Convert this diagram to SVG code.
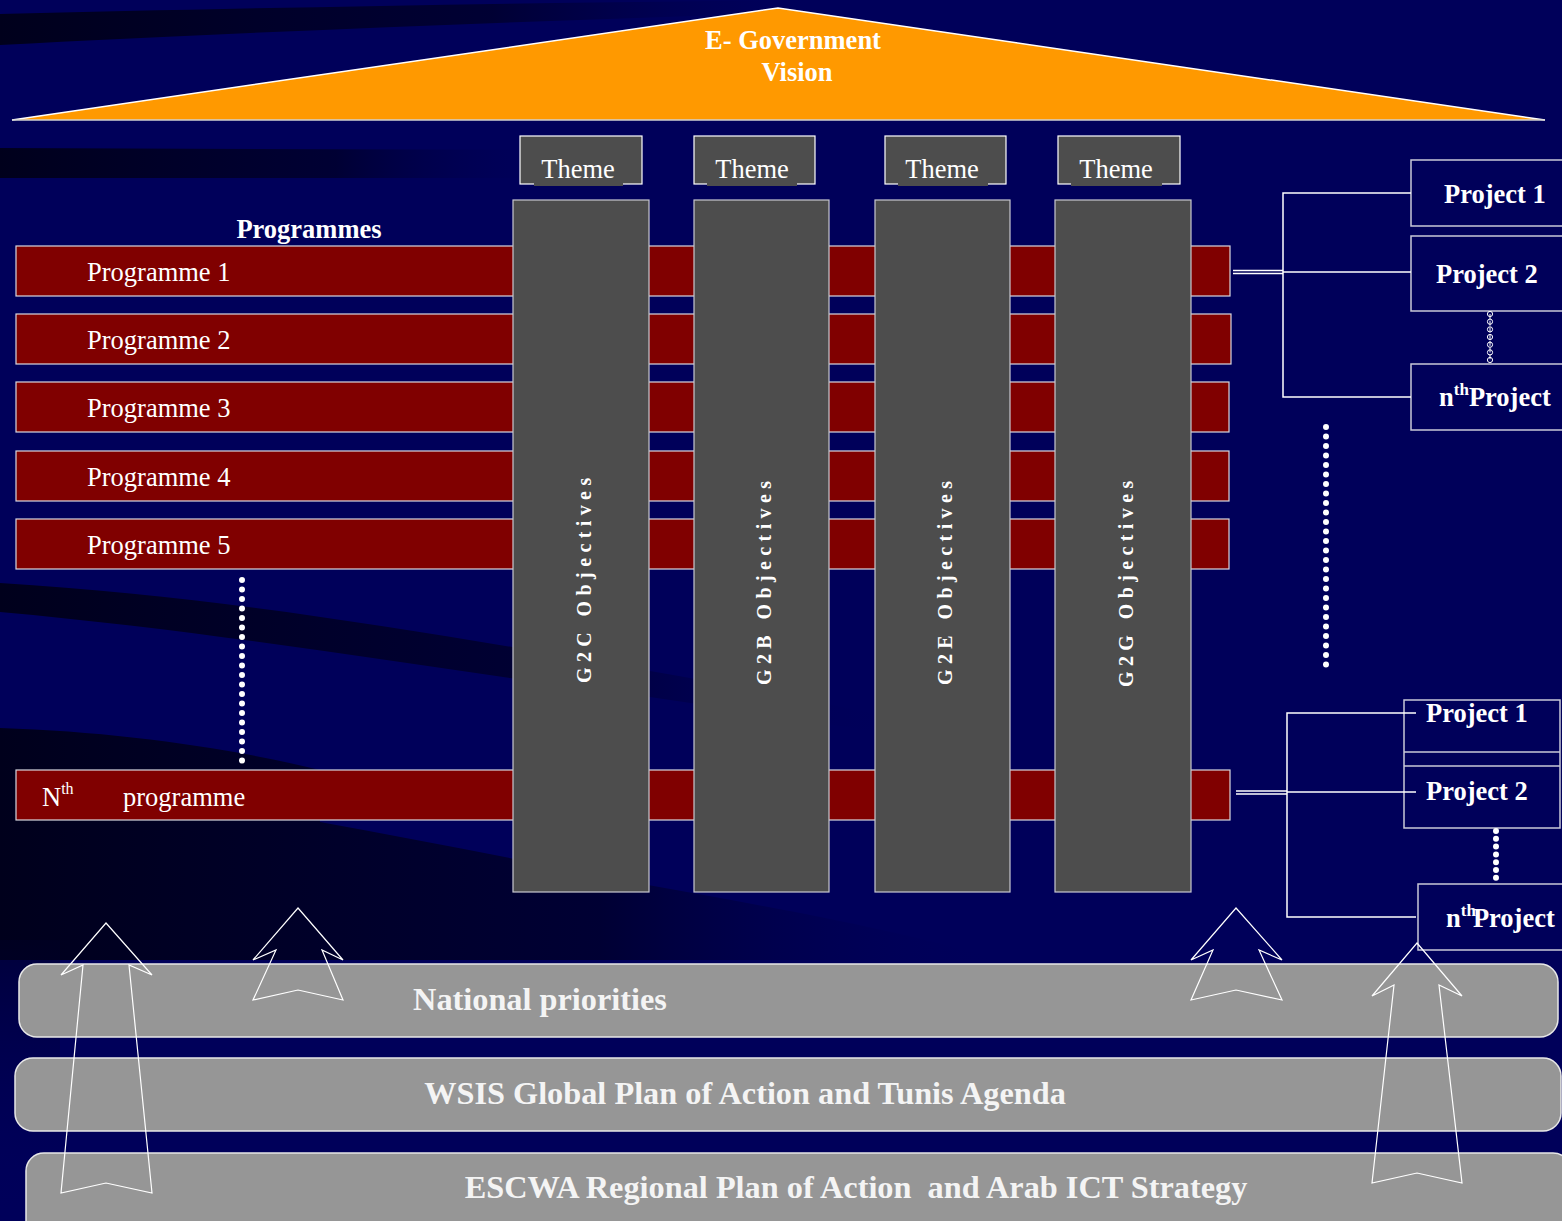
<svg xmlns="http://www.w3.org/2000/svg" width="1562" height="1221" viewBox="0 0 1562 1221">
<defs>
<linearGradient id="fadeR" x1="0" y1="0" x2="1" y2="0">
<stop offset="0" stop-color="#00001c" stop-opacity="1"/>
<stop offset="0.6" stop-color="#00002a" stop-opacity="0.8"/>
<stop offset="1" stop-color="#00005a" stop-opacity="0"/>
</linearGradient>
<linearGradient id="fadeDown" x1="0" y1="0" x2="0" y2="1">
<stop offset="0" stop-color="#000024" stop-opacity="1"/>
<stop offset="1" stop-color="#00005a" stop-opacity="0"/>
</linearGradient>
<style>
.bar{fill:#800000;stroke:#d8d8e0;stroke-width:1.2}
.col{fill:#4d4d4d;stroke:#c8c8d0;stroke-width:1.2}
.theme{fill:#4d4d4d;stroke:#ffffff;stroke-width:1.2}
.pbox{fill:none;stroke:#c8c8d8;stroke-width:1.5}
.band{fill:#969696;stroke:#e8e8e8;stroke-width:1.5}
.ln{stroke:#ffffff;stroke-width:1.5;fill:none}
.arrow{fill:none;stroke:#ffffff;stroke-width:1.2;stroke-linejoin:miter}
.serif{font-family:"Liberation Serif","Times New Roman",serif;fill:#ffffff}
.prog{font-size:26.5px}
.bold{font-weight:bold}
.proj{font-size:26.5px;font-weight:bold}
.obj{font-size:20px;font-weight:bold;letter-spacing:5.4px}
.bandtxt{font-size:32.3px;font-weight:bold;fill:#f4f4f4;text-anchor:middle;white-space:pre}
</style>
</defs>

<g id="background">
<rect x="0" y="0" width="1562" height="1221" fill="#00005a"/>
<path d="M0,14 C250,8 550,2 820,0 L820,12 C550,20 250,32 0,45 Z" fill="url(#fadeR)"/>
<path d="M0,148 L560,150 L560,178 L0,178 Z" fill="url(#fadeR)"/>
<path d="M0,583 C200,595 380,625 560,655 C700,680 820,700 900,720 L900,735 C800,720 680,700 560,685 C380,660 200,630 0,612 Z" fill="url(#fadeR)"/>
<path d="M0,728 C120,732 230,748 320,770 L320,822 C420,840 520,860 620,880 C760,905 900,930 1000,960 L0,960 Z" fill="url(#fadeR)"/>
<rect x="0" y="940" width="60" height="281" fill="url(#fadeDown)" opacity="0.6"/>
</g>

<g id="vision">
<polygon points="12,120 778,8 1545,120" fill="#ff9900"/>
<polyline points="12,120 778,8 1545,120" class="ln" stroke-width="1.2"/>
<line x1="12" y1="120" x2="1545" y2="120" stroke="#d0d0d0" stroke-width="1.5"/>
<text class="serif bold" font-size="26.5" text-anchor="middle" x="793" y="49">E- Government</text>
<text class="serif bold" font-size="26.5" text-anchor="middle" x="797" y="81">Vision</text>
</g>

<g id="programmes-title">
<text class="serif bold" font-size="26.5" text-anchor="middle" x="309" y="238">Programmes</text>
</g>

<g id="programme-bars">
<rect class="bar" x="16" y="246" width="1214" height="50"/>
<rect class="bar" x="16" y="314" width="1215" height="50"/>
<rect class="bar" x="16" y="382" width="1213" height="50"/>
<rect class="bar" x="16" y="451" width="1213" height="50"/>
<rect class="bar" x="16" y="519" width="1213" height="50"/>
<rect class="bar" x="16" y="770" width="1214" height="50"/>
</g>

<g id="programme-labels">
<text class="serif prog" x="87" y="281">Programme 1</text>
<text class="serif prog" x="87" y="349">Programme 2</text>
<text class="serif prog" x="87" y="417">Programme 3</text>
<text class="serif prog" x="87" y="486">Programme 4</text>
<text class="serif prog" x="87" y="554">Programme 5</text>
<text class="serif prog" x="42" y="806">N<tspan font-size="16" dy="-12">th</tspan></text>
<text class="serif prog" x="123" y="806">programme</text>
</g>

<g id="themes">
<g id="theme-1">
<rect class="theme" x="520" y="136" width="122" height="48"/>
<rect x="534" y="182" width="89" height="4" fill="#4d4d4d"/>
<text class="serif prog" text-anchor="middle" x="578" y="178">Theme</text>
</g>
<g id="theme-2">
<rect class="theme" x="694" y="136" width="121" height="48"/>
<rect x="707" y="182" width="90" height="4" fill="#4d4d4d"/>
<text class="serif prog" text-anchor="middle" x="752" y="178">Theme</text>
</g>
<g id="theme-3">
<rect class="theme" x="885" y="136" width="121" height="48"/>
<rect x="898" y="182" width="90" height="4" fill="#4d4d4d"/>
<text class="serif prog" text-anchor="middle" x="942" y="178">Theme</text>
</g>
<g id="theme-4">
<rect class="theme" x="1058" y="136" width="122" height="48"/>
<rect x="1071" y="182" width="91" height="4" fill="#4d4d4d"/>
<text class="serif prog" text-anchor="middle" x="1116" y="178">Theme</text>
</g>
</g>

<g id="columns">
<g id="col-g2c">
<rect class="col" x="513" y="200" width="136" height="692"/>
<text class="serif obj" transform="translate(591,683) rotate(-90)">G2C Objectives</text>
</g>
<g id="col-g2b">
<rect class="col" x="694" y="200" width="135" height="692"/>
<text class="serif obj" transform="translate(771,685) rotate(-90)">G2B Objectives</text>
</g>
<g id="col-g2e">
<rect class="col" x="875" y="200" width="135" height="692"/>
<text class="serif obj" transform="translate(952,685) rotate(-90)">G2E Objectives</text>
</g>
<g id="col-g2g">
<rect class="col" x="1055" y="200" width="136" height="692"/>
<text class="serif obj" transform="translate(1133,687) rotate(-90)">G2G Objectives</text>
</g>
</g>

<g id="projects-top">
<g id="proj-top-1">
<rect class="pbox" x="1411" y="160" width="152" height="66"/>
<text class="serif proj" x="1444" y="203">Project 1</text>
</g>
<g id="proj-top-2">
<rect class="pbox" x="1411" y="236" width="152" height="75"/>
<text class="serif proj" x="1436" y="283">Project 2</text>
</g>
<g id="proj-top-n">
<rect class="pbox" x="1411" y="364" width="152" height="66"/>
<text class="serif proj" x="1439" y="406">n<tspan font-size="17" dy="-11">th</tspan><tspan dy="11">Project</tspan></text>
</g>
</g>

<g id="projects-bottom">
<g id="proj-bot-12">
<rect class="pbox" x="1404" y="700" width="156" height="128"/>
<line x1="1404" y1="752" x2="1560" y2="752" stroke="#c8c8d8" stroke-width="1.5"/>
<line x1="1404" y1="766" x2="1560" y2="766" stroke="#c8c8d8" stroke-width="1.5"/>
<text class="serif proj" x="1426" y="722">Project 1</text>
<text class="serif proj" x="1426" y="800">Project 2</text>
</g>
<g id="proj-bot-n">
<rect class="pbox" x="1418" y="884" width="150" height="66"/>
<text class="serif proj" x="1446" y="927">n<tspan font-size="17" dy="-11">th</tspan><tspan dx="-3" dy="11">Project</tspan></text>
</g>
</g>

<g id="connectors">
<line class="ln" x1="1233" y1="270.5" x2="1283" y2="270.5" stroke-width="1.2"/>
<line class="ln" x1="1233" y1="273.5" x2="1283" y2="273.5" stroke-width="1.2"/>
<polyline class="ln" points="1411,193 1283,193 1283,397 1411,397"/>
<line class="ln" x1="1283" y1="272" x2="1411" y2="272" stroke-width="1.2"/>
<line class="ln" x1="1236" y1="791" x2="1287" y2="791" stroke-width="1.2"/>
<line class="ln" x1="1236" y1="794" x2="1287" y2="794" stroke-width="1.2"/>
<polyline class="ln" points="1416,713 1287,713 1287,917 1416,917"/>
<line class="ln" x1="1287" y1="792" x2="1416" y2="792" stroke-width="1.2"/>
<line x1="242" y1="580" x2="242" y2="761" stroke="#ffffff" stroke-width="6" stroke-linecap="round" stroke-dasharray="0 9.5"/>
<line x1="1326" y1="427" x2="1326" y2="674" stroke="#ffffff" stroke-width="6" stroke-linecap="round" stroke-dasharray="0 9.5"/>
<line x1="1490" y1="314" x2="1490" y2="361" stroke="#ffffff" stroke-width="1" stroke-dasharray="5 1.7"/>
<g fill="none" stroke="#ffffff" stroke-width="1">
<circle cx="1490" cy="314" r="2.6"/><circle cx="1490" cy="321.7" r="2.6"/><circle cx="1490" cy="329.4" r="2.6"/><circle cx="1490" cy="337" r="2.6"/><circle cx="1490" cy="344.7" r="2.6"/><circle cx="1490" cy="352.4" r="2.6"/><circle cx="1490" cy="360" r="2.6"/>
</g>
<line x1="1496" y1="831" x2="1496" y2="878" stroke="#ffffff" stroke-width="6" stroke-linecap="round" stroke-dasharray="0 7.8"/>
</g>

<g id="foundations">
<g id="band-national">
<rect class="band" x="19" y="964" width="1539" height="73" rx="18"/>
<text class="serif bandtxt" x="540" y="1010">National priorities</text>
</g>
<g id="band-wsis">
<rect class="band" x="15" y="1058" width="1546" height="73" rx="18"/>
<text class="serif bandtxt" x="745" y="1104">WSIS Global Plan of Action and Tunis Agenda</text>
</g>
<g id="band-escwa">
<rect class="band" x="26" y="1153" width="1545" height="90" rx="18"/>
<text class="serif bandtxt" x="856" y="1198">ESCWA Regional Plan of Action  and Arab ICT Strategy</text>
</g>
</g>

<g id="arrows">
<polygon class="arrow" points="106,923 152,975 129,965 152,1193 106,1183 61,1193 83,965 61,975"/>
<polygon class="arrow" points="298,908 343,960 322,950 343,1000 298,990 253,1000 276,950 253,960"/>
<polygon class="arrow" points="1236,908 1282,960 1259,950 1282,1000 1236,990 1191,1000 1213,950 1191,960"/>
<polygon class="arrow" points="1417,943 1462,996 1439,985 1462,1183 1417,1173 1372,1183 1394,985 1372,996"/>
</g>
</svg>
